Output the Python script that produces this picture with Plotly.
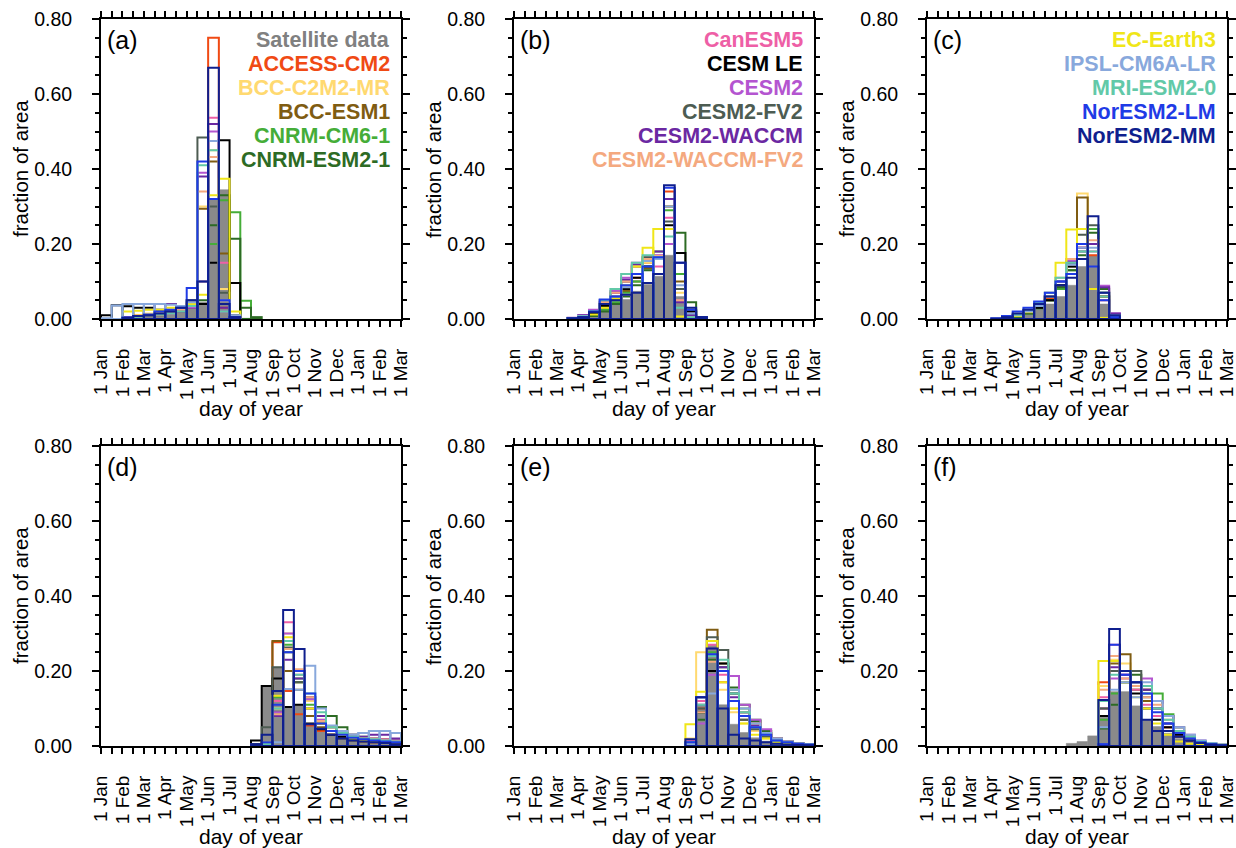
import plotly.graph_objects as go

# ---------------- data ----------------
MODELS = ["ACCESS-CM2", "BCC-C2M2-MR", "BCC-ESM1", "CNRM-CM6-1", "CNRM-ESM2-1",
          "CanESM5", "CESM LE", "CESM2", "CESM2-FV2", "CESM2-WACCM", "CESM2-WACCM-FV2",
          "EC-Earth3", "IPSL-CM6A-LR", "MRI-ESM2-0", "NorESM2-LM", "NorESM2-MM"]
COLORS = ["#F04A14", "#FFD970", "#7F5C12", "#45AD38", "#2D6B24",
          "#EE5FA6", "#000000", "#B455D0", "#4D5C52", "#6B28A2", "#F4A97F",
          "#F0E618", "#88A8DC", "#62C9A8", "#1F3BE6", "#0F1F8E"]
SAT_NAME = "Satellite data"
SAT_COLOR = "#8a8a8a"
SAT_TEXT_COLOR = "#808080"

MONTH_LABELS = ["1 Jan", "1 Feb", "1 Mar", "1 Apr", "1 May", "1 Jun", "1 Jul", "1 Aug",
                "1 Sep", "1 Oct", "1 Nov", "1 Dec", "1 Jan", "1 Feb", "1 Mar"]
N_BINS = 28  # half-month bins from 1 Jan to 1 Mar of the following year
Y_TICKS = [0.0, 0.2, 0.4, 0.6, 0.8]
Y_TICK_TEXT = ["0.00", "0.20", "0.40", "0.60", "0.80"]

# panel (a): bins 0..14
first_a = 0
sat_a = [0, 0, 0, 0.003, 0.006, 0.01, 0.014, 0.02, 0.03, 0.045, 0.32, 0.345, 0.01, 0.002, 0]
models_a = [
    [0, 0, 0.005, 0.01, 0.012, 0.015, 0.02, 0.02, 0.03, 0.1, 0.75, 0.03, 0.005, 0, 0],
    [0, 0, 0.004, 0.01, 0.015, 0.02, 0.025, 0.03, 0.045, 0.3, 0.45, 0.08, 0.01, 0, 0],
    [0, 0, 0, 0.005, 0.008, 0.01, 0.015, 0.02, 0.03, 0.294, 0.42, 0.175, 0.01, 0, 0],
    [0, 0, 0, 0.005, 0.01, 0.01, 0.015, 0.02, 0.03, 0.04, 0.2, 0.317, 0.285, 0.049, 0],
    [0, 0, 0, 0.005, 0.01, 0.012, 0.02, 0.025, 0.035, 0.05, 0.25, 0.33, 0.214, 0.03, 0.005],
    [0, 0, 0.002, 0.005, 0.01, 0.012, 0.015, 0.02, 0.04, 0.1, 0.537, 0.15, 0.01, 0, 0],
    [0.01, 0.037, 0.034, 0.03, 0.03, 0.025, 0.02, 0.02, 0.03, 0.04, 0.15, 0.477, 0.096, 0, 0],
    [0, 0, 0.005, 0.008, 0.01, 0.01, 0.015, 0.02, 0.03, 0.39, 0.5, 0.02, 0, 0, 0],
    [0, 0, 0.002, 0.005, 0.008, 0.012, 0.02, 0.03, 0.05, 0.484, 0.3, 0.07, 0.01, 0, 0],
    [0, 0, 0.005, 0.008, 0.01, 0.04, 0.04, 0.03, 0.035, 0.38, 0.52, 0.03, 0, 0, 0],
    [0, 0, 0.003, 0.006, 0.01, 0.012, 0.02, 0.025, 0.04, 0.34, 0.432, 0.05, 0.005, 0, 0],
    [0, 0, 0.02, 0.022, 0.025, 0.025, 0.03, 0.035, 0.04, 0.065, 0.33, 0.374, 0.02, 0, 0],
    [0.002, 0.036, 0.04, 0.04, 0.04, 0.04, 0.038, 0.035, 0.045, 0.1, 0.475, 0.05, 0.01, 0, 0],
    [0, 0, 0.003, 0.006, 0.01, 0.012, 0.015, 0.02, 0.035, 0.41, 0.45, 0.02, 0, 0, 0],
    [0, 0, 0.004, 0.008, 0.012, 0.02, 0.025, 0.03, 0.083, 0.42, 0.32, 0.05, 0.005, 0, 0],
    [0, 0, 0.003, 0.008, 0.01, 0.015, 0.02, 0.03, 0.05, 0.1, 0.67, 0.04, 0.005, 0, 0],
]

# panel (b): bins 5..18
first_b = 5
sat_b = [0.002, 0.007, 0.014, 0.025, 0.038, 0.052, 0.074, 0.092, 0.114, 0.17, 0.06, 0.012, 0, 0]
models_b = [
    [0.002, 0.008, 0.02, 0.04, 0.06, 0.08, 0.11, 0.15, 0.16, 0.34, 0.05, 0.01, 0, 0],
    [0.002, 0.006, 0.015, 0.035, 0.06, 0.085, 0.12, 0.15, 0.17, 0.3, 0.07, 0.01, 0, 0],
    [0.002, 0.005, 0.012, 0.03, 0.05, 0.075, 0.1, 0.135, 0.165, 0.3, 0.1, 0.02, 0.003, 0],
    [0.001, 0.004, 0.01, 0.025, 0.045, 0.07, 0.1, 0.14, 0.18, 0.29, 0.12, 0.025, 0.005, 0],
    [0, 0.003, 0.008, 0.02, 0.04, 0.06, 0.09, 0.13, 0.165, 0.24, 0.23, 0.045, 0.005, 0],
    [0.002, 0.008, 0.02, 0.045, 0.07, 0.1, 0.14, 0.165, 0.14, 0.27, 0.05, 0.005, 0, 0],
    [0.001, 0.005, 0.015, 0.035, 0.055, 0.08, 0.11, 0.14, 0.16, 0.25, 0.176, 0.02, 0, 0],
    [0.003, 0.01, 0.025, 0.05, 0.075, 0.11, 0.15, 0.16, 0.17, 0.2, 0.05, 0.01, 0, 0],
    [0.002, 0.008, 0.02, 0.04, 0.06, 0.1, 0.14, 0.165, 0.165, 0.26, 0.08, 0.01, 0, 0],
    [0.003, 0.01, 0.02, 0.045, 0.07, 0.105, 0.145, 0.16, 0.18, 0.32, 0.045, 0.01, 0, 0],
    [0.002, 0.008, 0.02, 0.045, 0.07, 0.1, 0.14, 0.16, 0.168, 0.24, 0.05, 0.005, 0, 0],
    [0.001, 0.004, 0.012, 0.03, 0.055, 0.09, 0.14, 0.19, 0.24, 0.24, 0.007, 0, 0, 0],
    [0.002, 0.008, 0.02, 0.04, 0.06, 0.085, 0.12, 0.155, 0.16, 0.3, 0.09, 0.015, 0, 0],
    [0.002, 0.007, 0.02, 0.05, 0.08, 0.12, 0.15, 0.17, 0.165, 0.22, 0.03, 0.005, 0, 0],
    [0.002, 0.005, 0.02, 0.052, 0.06, 0.09, 0.12, 0.14, 0.165, 0.35, 0.15, 0.025, 0.005, 0],
    [0.002, 0.005, 0.018, 0.04, 0.05, 0.065, 0.07, 0.096, 0.12, 0.357, 0.15, 0.03, 0.005, 0],
]

# panel (c): bins 6..19
first_c = 6
sat_c = [0, 0.003, 0.008, 0.015, 0.025, 0.04, 0.06, 0.09, 0.14, 0.17, 0.04, 0.012, 0, 0]
models_c = [
    [0, 0.003, 0.01, 0.02, 0.035, 0.055, 0.1, 0.16, 0.19, 0.17, 0.06, 0.005, 0, 0],
    [0, 0.002, 0.008, 0.02, 0.035, 0.06, 0.1, 0.15, 0.335, 0.2, 0.05, 0.005, 0, 0],
    [0, 0.002, 0.008, 0.018, 0.03, 0.05, 0.09, 0.14, 0.324, 0.2, 0.06, 0.01, 0, 0],
    [0, 0.002, 0.007, 0.015, 0.03, 0.05, 0.08, 0.13, 0.18, 0.24, 0.07, 0.01, 0, 0],
    [0, 0.002, 0.006, 0.015, 0.028, 0.05, 0.085, 0.13, 0.17, 0.23, 0.08, 0.012, 0, 0],
    [0, 0.003, 0.01, 0.02, 0.035, 0.06, 0.1, 0.15, 0.19, 0.18, 0.05, 0.005, 0, 0],
    [0, 0.002, 0.008, 0.018, 0.03, 0.05, 0.09, 0.14, 0.2, 0.2, 0.06, 0.01, 0, 0],
    [0, 0.003, 0.01, 0.022, 0.04, 0.06, 0.1, 0.155, 0.18, 0.2, 0.089, 0.015, 0, 0],
    [0, 0.002, 0.008, 0.02, 0.035, 0.06, 0.1, 0.15, 0.225, 0.25, 0.07, 0.01, 0, 0],
    [0, 0.003, 0.01, 0.022, 0.04, 0.06, 0.1, 0.15, 0.19, 0.2, 0.085, 0.015, 0, 0],
    [0, 0.003, 0.01, 0.022, 0.04, 0.07, 0.11, 0.16, 0.2, 0.21, 0.06, 0.01, 0, 0],
    [0, 0.002, 0.008, 0.018, 0.035, 0.06, 0.15, 0.239, 0.24, 0.08, 0.003, 0, 0, 0],
    [0, 0.003, 0.01, 0.02, 0.035, 0.06, 0.1, 0.145, 0.19, 0.19, 0.07, 0.01, 0, 0],
    [0, 0.003, 0.012, 0.025, 0.045, 0.07, 0.11, 0.15, 0.18, 0.18, 0.06, 0.008, 0, 0],
    [0.002, 0.008, 0.02, 0.03, 0.047, 0.07, 0.1, 0.12, 0.2, 0.14, 0.05, 0.005, 0, 0],
    [0.001, 0.005, 0.015, 0.025, 0.04, 0.06, 0.09, 0.11, 0.16, 0.274, 0.07, 0.01, 0, 0],
]

# panel (d): bins 13..27
first_d = 13
sat_d = [0, 0.003, 0.16, 0.21, 0.104, 0.11, 0.058, 0.04, 0.031, 0.022, 0.018, 0.015, 0.013, 0.011, 0.009]
models_d = [
    [0, 0, 0, 0.277, 0.147, 0.085, 0.055, 0.04, 0.03, 0.022, 0.017, 0.013, 0.01, 0.008, 0.006],
    [0, 0, 0.01, 0.1, 0.3, 0.17, 0.12, 0.07, 0.05, 0.035, 0.025, 0.02, 0.015, 0.012, 0.01],
    [0, 0, 0.005, 0.28, 0.2, 0.15, 0.08, 0.05, 0.03, 0.02, 0.015, 0.012, 0.01, 0.008, 0.006],
    [0, 0, 0.01, 0.13, 0.27, 0.18, 0.11, 0.06, 0.05, 0.03, 0.02, 0.015, 0.012, 0.01, 0.008],
    [0, 0, 0.005, 0.09, 0.25, 0.17, 0.13, 0.104, 0.08, 0.05, 0.03, 0.025, 0.02, 0.018, 0.015],
    [0, 0, 0.01, 0.12, 0.33, 0.19, 0.1, 0.06, 0.04, 0.03, 0.025, 0.02, 0.02, 0.018, 0.015],
    [0, 0.015, 0.16, 0.18, 0.104, 0.11, 0.06, 0.045, 0.03, 0.025, 0.02, 0.016, 0.014, 0.012, 0.01],
    [0, 0, 0.008, 0.09, 0.3, 0.2, 0.125, 0.07, 0.04, 0.03, 0.025, 0.02, 0.018, 0.016, 0.014],
    [0, 0.005, 0.05, 0.21, 0.263, 0.17, 0.1, 0.06, 0.04, 0.03, 0.02, 0.015, 0.012, 0.01, 0.008],
    [0, 0, 0.005, 0.08, 0.23, 0.18, 0.13, 0.08, 0.05, 0.035, 0.03, 0.025, 0.03, 0.03, 0.02],
    [0, 0, 0, 0.085, 0.259, 0.205, 0.13, 0.067, 0.05, 0.03, 0.025, 0.02, 0.018, 0.015, 0.012],
    [0, 0, 0.01, 0.134, 0.29, 0.2, 0.1, 0.06, 0.04, 0.03, 0.02, 0.015, 0.012, 0.01, 0.008],
    [0, 0, 0, 0.01, 0.152, 0.15, 0.214, 0.1, 0.055, 0.04, 0.03, 0.035, 0.04, 0.04, 0.035],
    [0, 0, 0.005, 0.1, 0.28, 0.19, 0.14, 0.09, 0.05, 0.035, 0.025, 0.02, 0.018, 0.015, 0.012],
    [0, 0, 0.01, 0.11, 0.25, 0.2, 0.14, 0.06, 0.04, 0.03, 0.022, 0.018, 0.015, 0.012, 0.01],
    [0, 0.005, 0.03, 0.147, 0.363, 0.259, 0.058, 0.046, 0.03, 0.02, 0.015, 0.012, 0.01, 0.008, 0.005],
]

# panel (e): bins 14..27
first_e = 14
sat_e = [0, 0, 0.004, 0.11, 0.27, 0.11, 0.058, 0.036, 0.022, 0.013, 0.009, 0.006, 0.004, 0.002]
models_e = [
    [0, 0, 0.01, 0.1, 0.24, 0.17, 0.12, 0.08, 0.05, 0.03, 0.015, 0.01, 0.005, 0.003],
    [0, 0, 0.02, 0.25, 0.26, 0.15, 0.09, 0.06, 0.04, 0.02, 0.012, 0.008, 0.005, 0.003],
    [0, 0, 0.01, 0.13, 0.31, 0.22, 0.12, 0.07, 0.05, 0.03, 0.015, 0.01, 0.006, 0.004],
    [0, 0, 0.01, 0.09, 0.25, 0.2, 0.15, 0.1, 0.07, 0.04, 0.02, 0.012, 0.008, 0.005],
    [0, 0, 0.005, 0.07, 0.23, 0.21, 0.156, 0.11, 0.067, 0.04, 0.02, 0.012, 0.007, 0.004],
    [0, 0, 0.015, 0.12, 0.27, 0.19, 0.12, 0.08, 0.05, 0.03, 0.015, 0.01, 0.006, 0.004],
    [0, 0, 0.005, 0.09, 0.2, 0.22, 0.14, 0.09, 0.06, 0.035, 0.02, 0.012, 0.007, 0.004],
    [0, 0, 0.005, 0.06, 0.19, 0.2, 0.187, 0.11, 0.07, 0.045, 0.02, 0.012, 0.007, 0.004],
    [0, 0, 0.01, 0.1, 0.29, 0.256, 0.12, 0.07, 0.045, 0.025, 0.012, 0.008, 0.005, 0.003],
    [0, 0, 0.01, 0.11, 0.26, 0.21, 0.13, 0.09, 0.055, 0.03, 0.015, 0.01, 0.006, 0.004],
    [0, 0, 0.005, 0.09, 0.225, 0.2, 0.1, 0.09, 0.06, 0.035, 0.02, 0.012, 0.007, 0.004],
    [0, 0, 0.058, 0.145, 0.28, 0.17, 0.1, 0.06, 0.03, 0.02, 0.01, 0.006, 0.004, 0.002],
    [0, 0, 0.005, 0.13, 0.14, 0.2, 0.15, 0.1, 0.06, 0.035, 0.02, 0.012, 0.007, 0.004],
    [0, 0, 0.01, 0.11, 0.24, 0.23, 0.14, 0.09, 0.05, 0.03, 0.015, 0.01, 0.006, 0.004],
    [0, 0, 0.01, 0.13, 0.245, 0.2, 0.12, 0.08, 0.05, 0.03, 0.015, 0.01, 0.006, 0.004],
    [0, 0, 0.018, 0.13, 0.26, 0.1, 0.03, 0.02, 0.015, 0.01, 0.006, 0.004, 0.003, 0.002],
]

# panel (f): bins 13..27
first_f = 13
sat_f = [0.007, 0.012, 0.027, 0.077, 0.145, 0.145, 0.107, 0.07, 0.052, 0.034, 0.02, 0.012, 0.007, 0.004, 0.002]
models_f = [
    [0, 0, 0, 0.17, 0.2, 0.2, 0.15, 0.15, 0.08, 0.05, 0.025, 0.015, 0.01, 0.005, 0.003],
    [0, 0, 0, 0.16, 0.23, 0.22, 0.17, 0.12, 0.08, 0.05, 0.03, 0.015, 0.01, 0.005, 0.003],
    [0, 0, 0, 0.1, 0.22, 0.245, 0.17, 0.12, 0.08, 0.05, 0.025, 0.015, 0.01, 0.005, 0.003],
    [0, 0, 0, 0.07, 0.14, 0.17, 0.15, 0.14, 0.14, 0.085, 0.05, 0.025, 0.012, 0.006, 0.003],
    [0, 0, 0, 0.047, 0.11, 0.2, 0.19, 0.15, 0.12, 0.08, 0.05, 0.025, 0.012, 0.006, 0.003],
    [0, 0, 0, 0.13, 0.27, 0.19, 0.15, 0.11, 0.08, 0.05, 0.03, 0.015, 0.008, 0.004, 0.002],
    [0, 0, 0, 0.08, 0.2, 0.17, 0.14, 0.1, 0.07, 0.05, 0.03, 0.015, 0.008, 0.004, 0.002],
    [0, 0, 0, 0.1, 0.18, 0.18, 0.17, 0.18, 0.12, 0.08, 0.05, 0.03, 0.015, 0.007, 0.003],
    [0, 0, 0, 0.1, 0.2, 0.2, 0.2, 0.13, 0.1, 0.06, 0.035, 0.02, 0.01, 0.005, 0.002],
    [0, 0, 0, 0.12, 0.21, 0.19, 0.16, 0.15, 0.1, 0.06, 0.035, 0.02, 0.01, 0.005, 0.002],
    [0, 0, 0, 0.15, 0.24, 0.18, 0.16, 0.13, 0.11, 0.07, 0.04, 0.02, 0.01, 0.005, 0.002],
    [0, 0, 0, 0.227, 0.227, 0.17, 0.13, 0.1, 0.06, 0.03, 0.012, 0.006, 0.003, 0.002, 0.001],
    [0, 0, 0, 0.05, 0.15, 0.17, 0.13, 0.17, 0.12, 0.08, 0.05, 0.03, 0.015, 0.008, 0.004],
    [0, 0, 0, 0.12, 0.19, 0.2, 0.17, 0.16, 0.1, 0.07, 0.04, 0.025, 0.012, 0.006, 0.003],
    [0, 0, 0, 0.005, 0.27, 0.19, 0.17, 0.14, 0.09, 0.06, 0.035, 0.02, 0.01, 0.005, 0.002],
    [0, 0, 0, 0.123, 0.312, 0.2, 0.17, 0.07, 0.04, 0.04, 0.025, 0.015, 0.008, 0.004, 0.002],
]

# legend groups (model indices listed in each top panel)
legend_a = [0, 1, 2, 3, 4]
legend_b = [5, 6, 7, 8, 9, 10]
legend_c = [11, 12, 13, 14, 15]

# ---------------- layout helpers ----------------
W, H = 1236, 848
FONT = "Liberation Sans, Arial, Helvetica, sans-serif"
COL_LEFT = [101, 514, 927]
COL_W = 300
ROW_TOP = [19, 446]
ROW_H = 300

panels = [
    ("(a)", first_a, sat_a, models_a, legend_a, True),
    ("(b)", first_b, sat_b, models_b, legend_b, False),
    ("(c)", first_c, sat_c, models_c, legend_c, False),
    ("(d)", first_d, sat_d, models_d, None, False),
    ("(e)", first_e, sat_e, models_e, None, False),
    ("(f)", first_f, sat_f, models_f, None, False),
]

def px_x(x):
    return x / W

def px_y(y):
    return 1 - y / H

fig = go.Figure()
annotations = []
layout_axes = {}

xtickvals = list(range(N_BINS + 1))
xticktext = [MONTH_LABELS[i // 2] if i % 2 == 0 else "" for i in xtickvals]

for p, (label, first, sat, mods, legend, show_sat) in enumerate(panels):
    row, col = divmod(p, 3)
    left = COL_LEFT[col]
    top = ROW_TOP[row]
    n = p + 1
    xa = "x" if n == 1 else f"x{n}"
    ya = "y" if n == 1 else f"y{n}"
    xkey = "xaxis" if n == 1 else f"xaxis{n}"
    ykey = "yaxis" if n == 1 else f"yaxis{n}"

    # satellite (filled grey)
    xs = [first + i + 0.5 for i, v in enumerate(sat) if v > 0]
    ys = [v for v in sat if v > 0]
    fig.add_trace(go.Bar(x=xs, y=ys, width=1, xaxis=xa, yaxis=ya,
                         marker=dict(color=SAT_COLOR, line=dict(color=SAT_COLOR, width=0.5)),
                         showlegend=False, name=SAT_NAME))
    # models (outlined)
    for m, vals in enumerate(mods):
        xs = [first + i + 0.5 for i, v in enumerate(vals) if v > 0]
        ys = [v for v in vals if v > 0]
        fig.add_trace(go.Bar(x=xs, y=ys, width=1, xaxis=xa, yaxis=ya,
                             marker=dict(color="rgba(0,0,0,0)",
                                         line=dict(color=COLORS[m], width=2)),
                             showlegend=False, name=MODELS[m]))

    layout_axes[xkey] = dict(
        domain=[px_x(left), px_x(left + COL_W)], anchor=ya, range=[0, N_BINS],
        tickmode="array", tickvals=xtickvals, ticktext=xticktext, tickangle=-90,
        ticks="outside", ticklen=6, tickwidth=1.5, tickcolor="black",
        showline=True, linewidth=2, linecolor="black", mirror="allticks",
        showgrid=False, zeroline=False, ticklabelstandoff=14, automargin=False,
        ticklabeloverflow="allow",
        tickfont=dict(family=FONT, size=19, color="black"), fixedrange=True)
    layout_axes[ykey] = dict(
        domain=[px_y(top + ROW_H), px_y(top)], anchor=xa, range=[0, 0.8],
        tickmode="array", tickvals=Y_TICKS, ticktext=Y_TICK_TEXT,
        ticks="outside", ticklen=7, tickwidth=1.5, tickcolor="black",
        minor=dict(tickmode="linear", tick0=0, dtick=0.05, ticks="outside",
                   ticklen=4, tickwidth=1.5, tickcolor="black", showgrid=False),
        showline=True, linewidth=2, linecolor="black", mirror="allticks",
        showgrid=False, zeroline=False, ticklabelstandoff=16, automargin=False,
        ticklabeloverflow="allow",
        tickfont=dict(family=FONT, size=19.5, color="black"), fixedrange=True)

    # panel label
    annotations.append(dict(text=label, x=px_x(left + 4), y=px_y(top + 21),
                            xref="paper", yref="paper", xanchor="left", yanchor="middle",
                            showarrow=False, font=dict(family=FONT, size=25, color="black")))
    # axis titles
    annotations.append(dict(text="day of year", x=px_x(left + COL_W / 2), y=px_y(top + ROW_H + 90),
                            xref="paper", yref="paper", xanchor="center", yanchor="middle",
                            showarrow=False, font=dict(family=FONT, size=21, color="black")))
    annotations.append(dict(text="fraction of area", x=px_x(left - 81), y=px_y(top + ROW_H / 2),
                            xref="paper", yref="paper", xanchor="center", yanchor="middle",
                            textangle=-90, showarrow=False,
                            font=dict(family=FONT, size=20.5, color="black")))
    # legend text
    if legend is not None:
        entries = []
        if show_sat:
            entries.append((SAT_NAME, SAT_TEXT_COLOR))
        entries += [(MODELS[i], COLORS[i]) for i in legend]
        for k, (name, color) in enumerate(entries):
            annotations.append(dict(text=f"<b>{name}</b>", x=px_x(left + COL_W - 9),
                                    y=px_y(top + 21 + 24 * k), xref="paper", yref="paper",
                                    xanchor="right", yanchor="middle", showarrow=False,
                                    font=dict(family=FONT, size=21.5, color=color)))

fig.update_layout(
    template="none",
    width=W, height=H, margin=dict(l=0, r=0, t=0, b=0, pad=0), autosize=False,
    paper_bgcolor="white", plot_bgcolor="white", barmode="overlay",
    showlegend=False, annotations=annotations, **layout_axes)

fig.write_html("out.html")
